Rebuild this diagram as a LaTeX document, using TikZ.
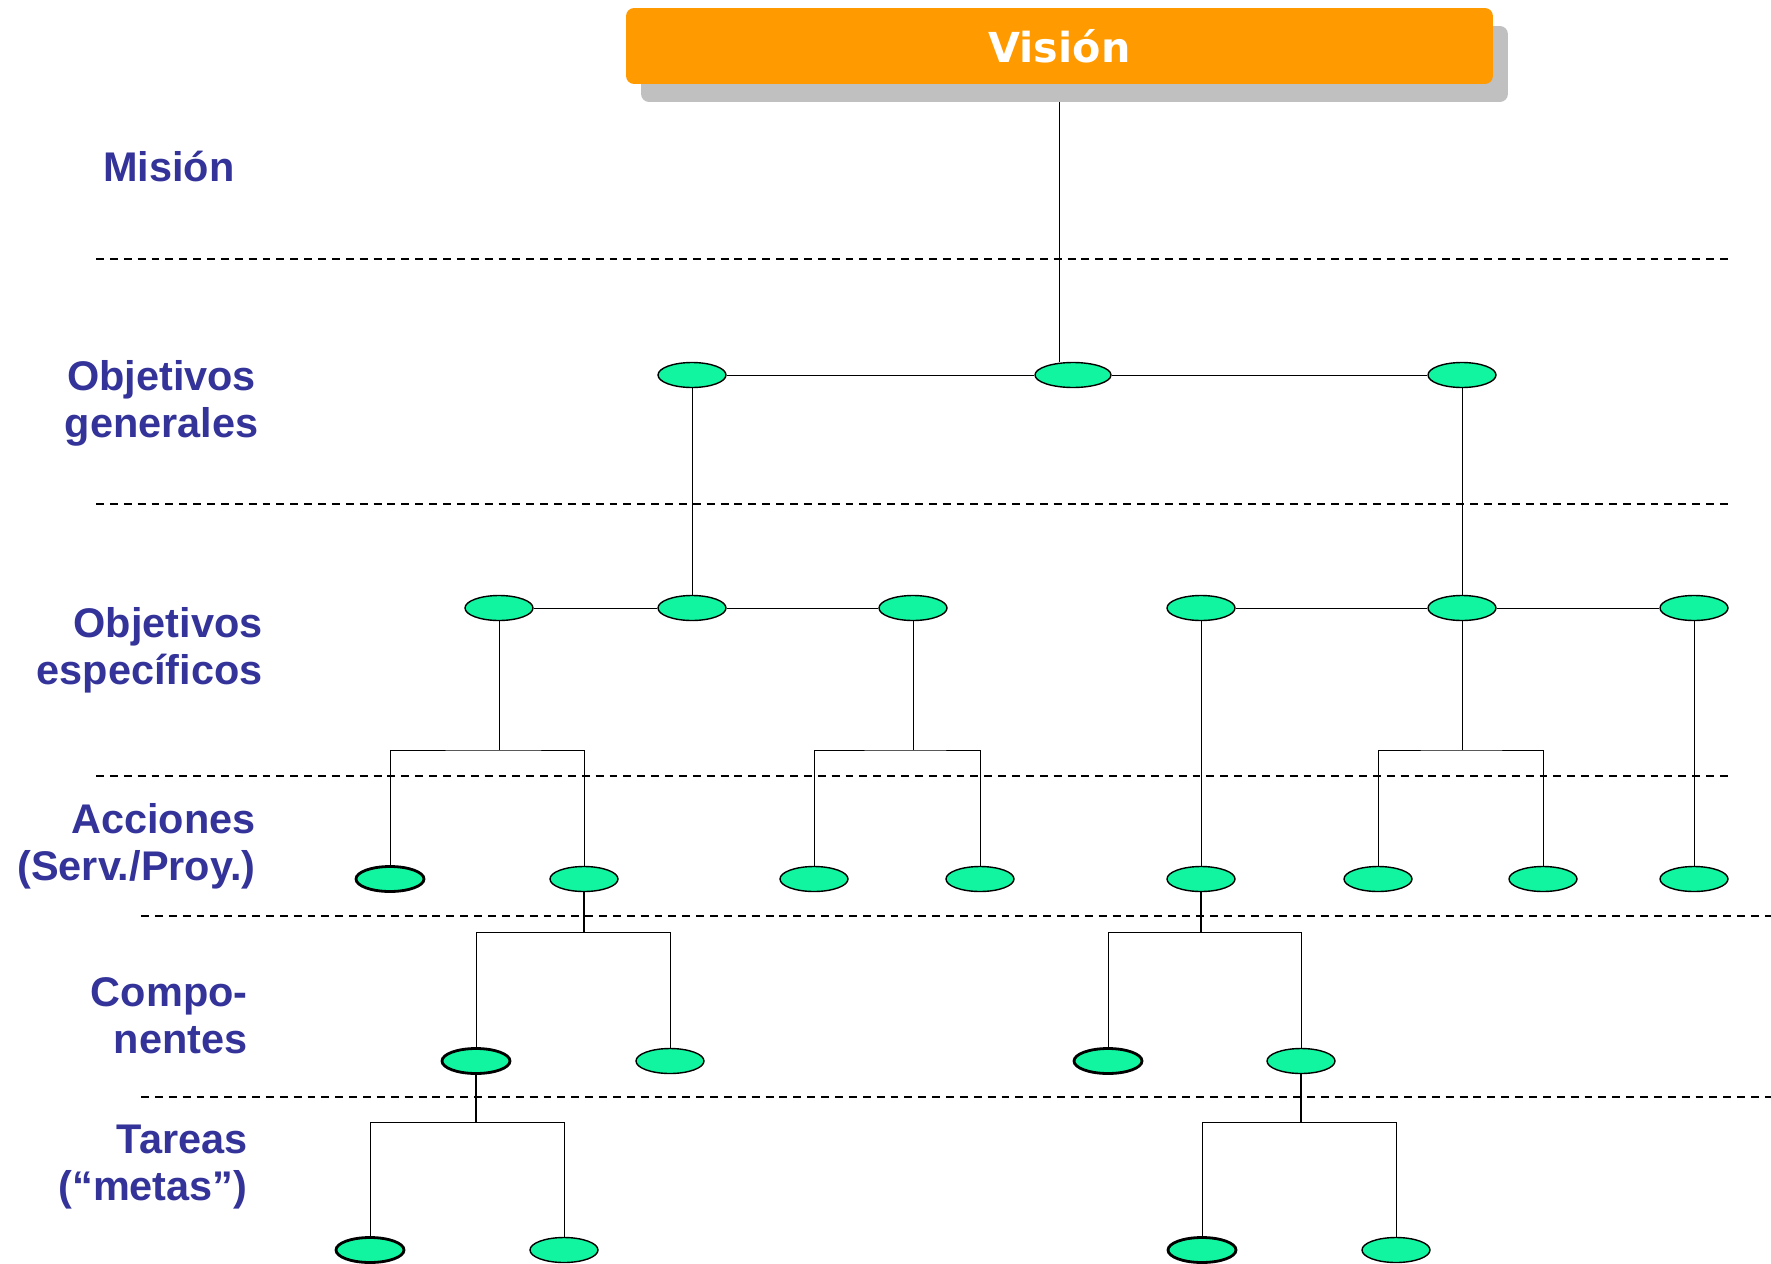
\documentclass[tikz,border=0pt]{standalone}
\usepackage{fontspec}
\setmainfont{Liberation Sans}
\newfontfamily\visionfont{DejaVu Sans}
\usetikzlibrary{shapes.geometric,shadows,backgrounds}
\definecolor{levelblue}{HTML}{333399}
\definecolor{visorange}{HTML}{FF9B00}
\definecolor{shadegray}{HTML}{C0C0C0}
\definecolor{leafgreen}{HTML}{11F5A0}
\tikzset{
  goal/.style={ellipse,draw,line width=0.8pt,fill=leafgreen,
    minimum width=1.36cm,minimum height=0.5cm,inner sep=0pt},
  goalb/.style={goal,line width=1.6pt},
  level/.style={anchor=base east,align=right,text=levelblue,inner sep=0pt,
    font=\fontsize{23.6}{26.6}\selectfont\bfseries},
  levelline/.style={line width=1.4pt,dash pattern=on 4.5pt off 3.4pt},
  thicklink/.style={line width=1.6pt}
}
\begin{document}
\begin{tikzpicture}[x=0.02cm,y=-0.02cm,line width=0.6pt]
      \useasboundingbox (0,0) rectangle (1771,1264);
      \node[fill=visorange,rounded corners=0.16cm,minimum width=17.34cm,
        minimum height=1.52cm,text=white,
        font=\visionfont\fontsize{23.5}{28}\selectfont\bfseries,
        drop shadow={shadow xshift=0.3cm,shadow yshift=-0.36cm,
          fill=shadegray,opacity=1}] (vis) at (1059.5,46) {Visión};
      \node[level] (mis) at (235,181) {Misión};
      \node[level,align=center,anchor=base] (gen) at (161.5,437) {Objetivos\\generales};
      \node[level] (esp) at (263,684) {Objetivos\\específicos};
      \node[level] (acc) at (256,880) {Acciones\\(Serv./Proy.)};
      \node[level] (com) at (248,1053) {Compo-\\nentes};
      \node[level] (tar) at (248,1200) {Tareas\\(“metas”)};
      \draw[levelline] (96,259) -- (1728,259);
      \draw[levelline] (96,504) -- (1728,504);
      \draw[levelline] (96,776) -- (1728,776);
      \draw[levelline] (141,916) -- (1771,916);
      \draw[levelline] (141,1097) -- (1771,1097);
      \node[goal] (og1) at (692,375) {};
      \node[goal,minimum width=1.52cm] (og2) at (1073,375) {};
      \node[goal] (og3) at (1462,375) {};
      \node[goal] (oe1) at (499,608) {};
      \node[goal] (oe2) at (692,608) {};
      \node[goal] (oe3) at (913,608) {};
      \node[goal] (oe4) at (1201,608) {};
      \node[goal] (oe5) at (1462,608) {};
      \node[goal] (oe6) at (1694,608) {};
      \node[goalb] (ac1) at (390,879) {};
      \node[goal] (ac2) at (584,879) {};
      \node[goal] (ac3) at (814,879) {};
      \node[goal] (ac4) at (980,879) {};
      \node[goal] (ac5) at (1201,879) {};
      \node[goal] (ac6) at (1378,879) {};
      \node[goal] (ac7) at (1543,879) {};
      \node[goal] (ac8) at (1694,879) {};
      \node[goalb] (co1) at (476,1061) {};
      \node[goal] (co2) at (670,1061) {};
      \node[goalb] (co3) at (1108,1061) {};
      \node[goal] (co4) at (1301,1061) {};
      \node[goalb] (ta1) at (370,1250) {};
      \node[goal] (ta2) at (564,1250) {};
      \node[goalb] (ta3) at (1202,1250) {};
      \node[goal] (ta4) at (1396,1250) {};
      \coordinate (b1) at (499,750);
      \coordinate (b2) at (913,750);
      \coordinate (b3) at (1462,750);
      \coordinate (b4) at (584,932);
      \coordinate (b5) at (1201,932);
      \coordinate (b6) at (476,1122);
      \coordinate (b7) at (1301,1122);
      \begin{scope}[on background layer]
        \draw (vis.south) -- (vis.south |- og2.north);
        \draw (og1) -- (og2) -- (og3);
        \draw (og1) -- (oe2);
        \draw (og3) -- (oe5);
        \draw (oe1) -- (oe2) -- (oe3);
        \draw (oe4) -- (oe5) -- (oe6);
        \draw (oe1) -- (b1);
        \draw (ac1) |- (b1) -| (ac2);
        \draw (oe3) -- (b2);
        \draw (ac3) |- (b2) -| (ac4);
        \draw (oe4) -- (ac5);
        \draw (oe5) -- (b3);
        \draw (ac6) |- (b3) -| (ac7);
        \draw (oe6) -- (ac8);
        \draw[thicklink] (ac2) -- (b4);
        \draw (co1) |- (b4) -| (co2);
        \draw[thicklink] (ac5) -- (b5);
        \draw (co3) |- (b5) -| (co4);
        \draw[thicklink] (co1) -- (b6);
        \draw (ta1) |- (b6) -| (ta2);
        \draw[thicklink] (co4) -- (b7);
        \draw (ta3) |- (b7) -| (ta4);
      \end{scope}
    \end{tikzpicture}
\end{document}
